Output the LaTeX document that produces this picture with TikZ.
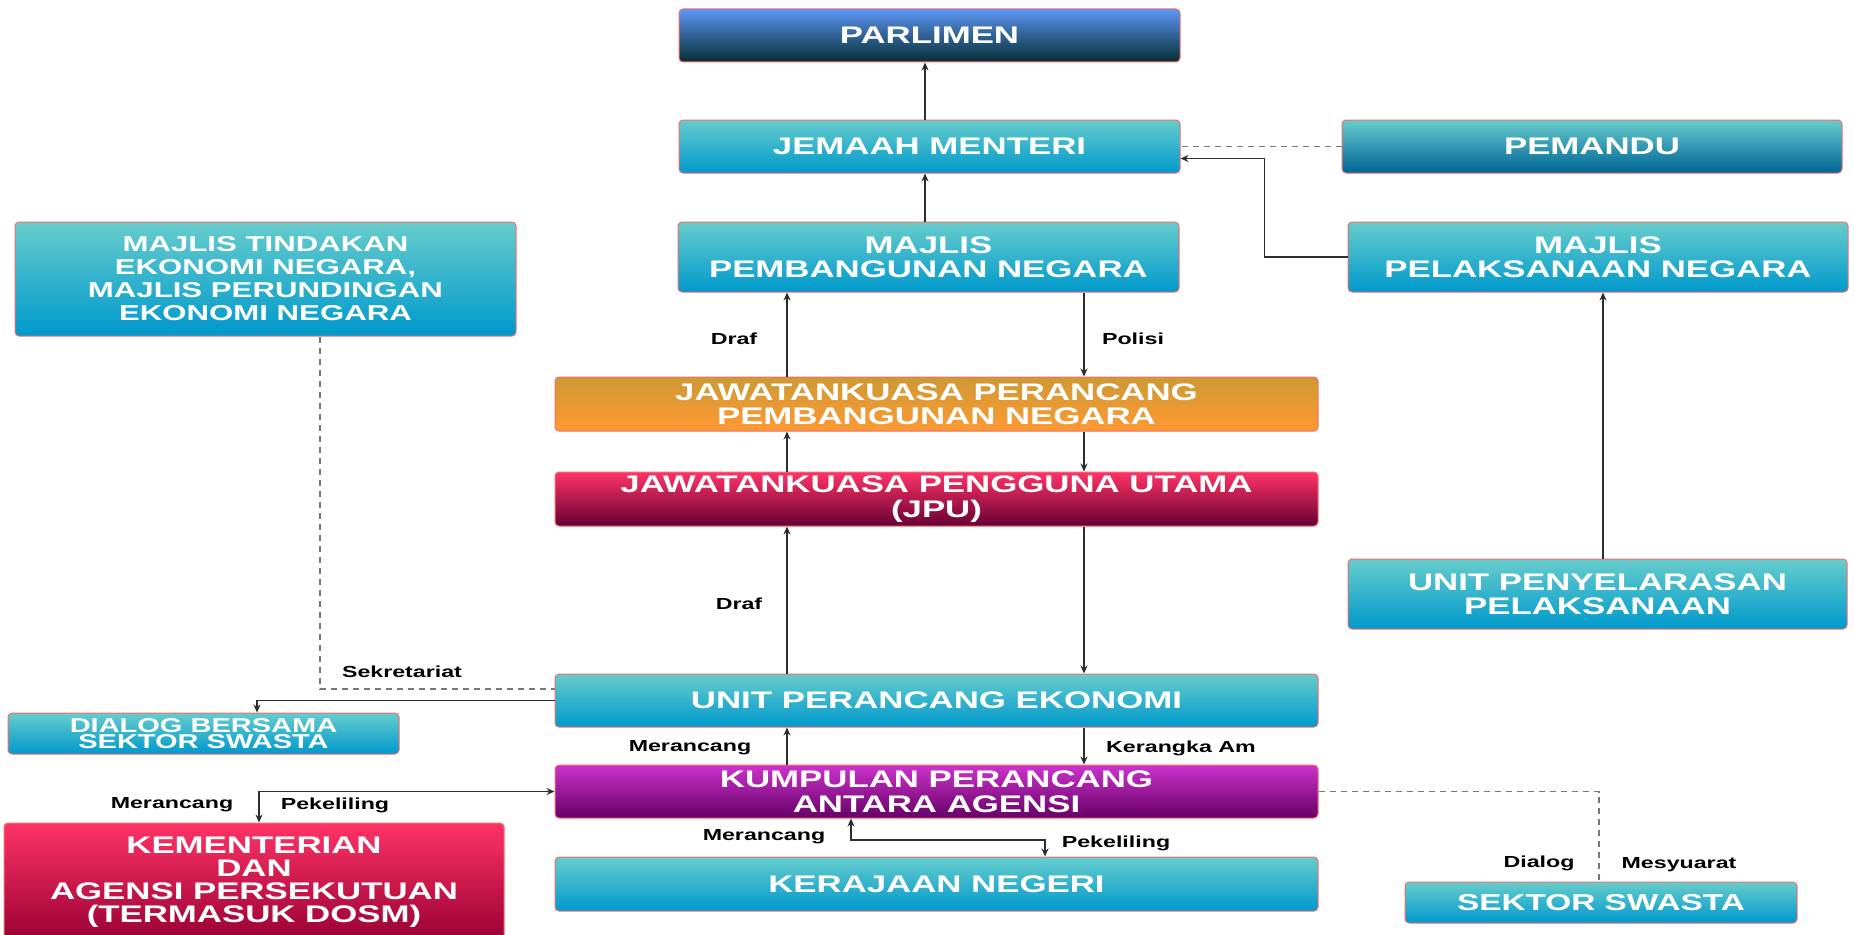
\documentclass[tikz,border=0pt]{standalone}
\usepackage{fontspec}
\setmainfont{Liberation Sans}[FakeStretch=1.45]
\usetikzlibrary{arrows.meta,calc}
\definecolor{boxred}{RGB}{240,110,110}
\definecolor{cyT}{RGB}{102,204,204}
\definecolor{cyB}{RGB}{0,153,204}
\definecolor{pmB}{RGB}{0,100,150}
\definecolor{paT}{RGB}{92,150,245}
\definecolor{paB}{RGB}{5,45,50}
\definecolor{orT}{RGB}{205,153,51}
\definecolor{orB}{RGB}{255,153,51}
\definecolor{rdT}{RGB}{255,51,102}
\definecolor{rdB}{RGB}{102,0,51}
\definecolor{kmB}{RGB}{153,0,51}
\definecolor{puT}{RGB}{204,51,204}
\definecolor{puB}{RGB}{102,0,102}
\definecolor{lineg}{RGB}{45,45,45}
\definecolor{dashg}{RGB}{120,120,120}
\tikzset{
  box/.style={rounded corners=4pt, draw=boxred, line width=1pt, inner sep=0pt,
    align=center, text=white, font=\bfseries\fontsize{24}{24.5}\selectfont},
  cyanbox/.style={box, top color=cyT, bottom color=cyB},
  pembox/.style={box, top color=cyT, bottom color=pmB},
  parbox/.style={box, top color=paT, bottom color=paB},
  orbox/.style={box, top color=orT, bottom color=orB},
  jpubox/.style={box, top color=rdT, bottom color=rdB},
  kembox/.style={box, top color=rdT, bottom color=kmB},
  purbox/.style={box, top color=puT, bottom color=puB},
  arr/.style={draw=lineg, line width=1.8pt, -{Stealth[length=8pt,width=7pt]}},
  arrtwo/.style={draw=lineg, line width=1.8pt, {Stealth[length=8pt,width=7pt]}-{Stealth[length=8pt,width=7pt]}},
  dsh/.style={draw=dashg, line width=1.6pt, dash pattern=on 6pt off 5pt},
  lab/.style={inner sep=0pt, text=black, font=\bfseries\fontsize{16}{18}\selectfont}
}
\begin{document}
\begin{tikzpicture}[x=1pt,y=-1pt]
\fill[white] (0,0) rectangle (1854,934);
\useasboundingbox (0,0) rectangle (1854,934);

% nodes
\node[parbox, minimum width=501pt, minimum height=53pt] (parl) at (929.5,35.5) {PARLIMEN};
\node[cyanbox, minimum width=501pt, minimum height=53pt] (jm) at (929.5,146.5) {JEMAAH MENTERI};
\node[cyanbox, minimum width=501pt, minimum height=70pt] (mpn) at (928.5,257) {MAJLIS\\PEMBANGUNAN NEGARA};
\node[pembox, minimum width=500pt, minimum height=53pt] (pem) at (1592,146.5) {PEMANDU};
\node[cyanbox, minimum width=500pt, minimum height=70pt] (mpel) at (1598,257) {MAJLIS\\PELAKSANAAN NEGARA};
\node[cyanbox, minimum width=501pt, minimum height=114pt, font=\bfseries\fontsize{21.5}{23}\selectfont] (mten) at (265.5,279) {MAJLIS TINDAKAN\\EKONOMI NEGARA,\\MAJLIS PERUNDINGAN\\EKONOMI NEGARA};
\node[orbox, minimum width=763pt, minimum height=54pt] (jppn) at (936.5,404) {JAWATANKUASA PERANCANG\\PEMBANGUNAN NEGARA};
\node[jpubox, minimum width=763pt, minimum height=54pt] (jpu) at (936.5,499) {JAWATANKUASA PENGGUNA UTAMA\\(JPU)};
\node[cyanbox, minimum width=499pt, minimum height=70pt] (upp) at (1597.5,594) {UNIT PENYELARASAN\\PELAKSANAAN};
\node[cyanbox, minimum width=763pt, minimum height=53pt] (upe) at (936.5,700.5) {UNIT PERANCANG EKONOMI};
\node[cyanbox, minimum width=391pt, minimum height=41pt, font=\bfseries\fontsize{20}{16.5}\selectfont] (dlg) at (203.5,733.5) {DIALOG BERSAMA\\SEKTOR SWASTA};
\node[purbox, minimum width=763pt, minimum height=53pt] (kpaa) at (936.5,791.5) {KUMPULAN PERANCANG\\ANTARA AGENSI};
\node[kembox, minimum width=500pt, minimum height=118pt, font=\bfseries\fontsize{24}{23}\selectfont] (kem) at (254,882) {KEMENTERIAN\\DAN\\AGENSI PERSEKUTUAN\\(TERMASUK DOSM)};
\node[cyanbox, minimum width=763pt, minimum height=54pt] (kn) at (936.5,884) {KERAJAAN NEGERI};
\node[cyanbox, minimum width=392pt, minimum height=41pt, font=\bfseries\fontsize{23}{24}\selectfont] (ss) at (1601,902.5) {SEKTOR SWASTA};

% helper coordinates
\coordinate (C) at (925,0);
\coordinate (U) at (1603,0);
\coordinate (L) at (787,0);
\coordinate (R) at (1084,0);
\coordinate (M) at (320,0);
\coordinate (D) at (257,0);
\coordinate (K) at (259,0);
\coordinate (S) at (1599,0);
\coordinate (X1) at (851,840);
\coordinate (X2) at (1045,840);

% connectors
\draw[arr] (C |- jm.north) -- (C |- parl.south);
\draw[arr] (C |- mpn.north) -- (C |- jm.south);
\draw[dsh] (pem.west) -- (jm.east);
\draw[arr] (mpel.west) -- ++(-83,0) |- ($(jm.east)+(0,12)$);
\draw[arr] (L |- jppn.north) -- (L |- mpn.south);
\draw[arr] (R |- mpn.south) -- (R |- jppn.north);
\draw[arr] (L |- jpu.north) -- (L |- jppn.south);
\draw[arr] (R |- jppn.south) -- (R |- jpu.north);
\draw[arr] (L |- upe.north) -- (L |- jpu.south);
\draw[arr] (R |- jpu.south) -- (R |- upe.north);
\draw[arr] (L |- kpaa.north) -- (L |- upe.south);
\draw[arr] (R |- upe.south) -- (R |- kpaa.north);
\draw[arr] (U |- upp.north) -- (U |- mpel.south);
\draw[dsh] (M |- mten.south) |- ($(upe.west)+(0,-11.5)$);
\draw[arr] (upe.west) -| (D |- dlg.north);
\draw[arrtwo] (kpaa.west) -| (K |- kem.north);
\draw[arrtwo] (X1 |- kpaa.south) -- (X1) -- (X2) -- (X2 |- kn.north);
\draw[dsh] (kpaa.east) -| (S |- ss.north);

% labels
\node[lab] (l1) at (734,339) {Draf};
\node[lab] (l2) at (1133,339) {Polisi};
\node[lab] (l3) at (739,604) {Draf};
\node[lab] (l4) at (690,748) {Merancang};
\node[lab] (l5) at (1181,748) {Kerangka Am};
\node[lab] (l6) at (402,672) {Sekretariat};
\node[lab] (l7) at (172,805) {Merancang};
\node[lab] (l8) at (335,805) {Pekeliling};
\node[lab] (l9) at (764,837) {Merancang};
\node[lab] (l10) at (1116,843) {Pekeliling};
\node[lab] (l11) at (1539,863) {Dialog};
\node[lab] (l12) at (1679,865) {Mesyuarat};
\end{tikzpicture}
\end{document}
